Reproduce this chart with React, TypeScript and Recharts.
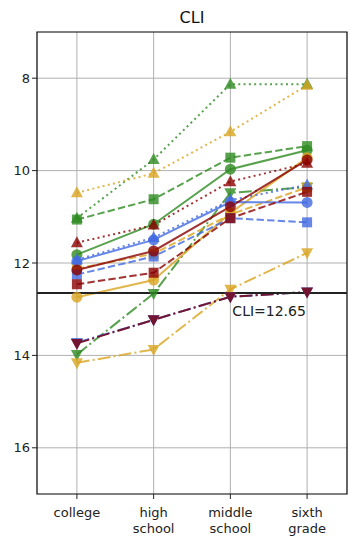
import React from 'react';
import { LineChart, Line, XAxis, YAxis, CartesianGrid, ReferenceLine, ReferenceArea, ReferenceDot } from 'recharts';

const categories = ['college', 'high school', 'middle school', 'sixth grade'];

// green series
const greenTri = [11.03, 9.76, 8.13, 8.13];
const greenCircle = [11.82, 11.16, 9.97, 9.56];
const greenSquare = [11.06, 10.62, 9.72, 9.47];
const greenDown = [13.98, 12.66, 10.48, 10.36];

// gold series
const goldTri = [10.48, 10.06, 9.16, 8.15];
const goldCircle = [12.74, 12.37, 10.92, 9.72];
const goldSquare = [12.12, 11.8, 10.95, 10.36];
const goldDown = [14.16, 13.87, 12.57, 11.78];

// blue series
const blueTri = [11.93, 11.45, 10.64, 10.31];
const blueCircle = [11.96, 11.5, 10.68, 10.69];
const blueSquare = [12.25, 11.86, 11.03, 11.12];
const blueDown = [13.72, 13.23, 12.73, 12.63];

// dark red series
const redTri = [11.56, 11.18, 10.24, 9.84];
const redCircle = [12.15, 11.74, 10.78, 9.77];
const redSquare = [12.46, 12.21, 11.03, 10.46];

// maroon
const maroonDown = [13.74, 13.23, 12.73, 12.63];

const cliValue = 12.65;

const GREEN = '#2e8b22';
const GOLD = '#daa520';
const BLUE = '#4169e1';
const RED = '#8b0000';
const MAROON = '#731530';

const DOTTED = '2,3.3';
const DASHED = '7.4,3.2';
const DASHDOT = '12.8,3.2,2,3.2';

type Marker = 'tri' | 'circle' | 'square' | 'down';

const series: { key: string; values: number[]; color: string; marker: Marker; dash?: string; opacity?: number }[] = [
  { key: 'greenTri', values: greenTri, color: GREEN, marker: 'tri', dash: DOTTED },
  { key: 'greenCircle', values: greenCircle, color: GREEN, marker: 'circle' },
  { key: 'greenSquare', values: greenSquare, color: GREEN, marker: 'square', dash: DASHED },
  { key: 'greenDown', values: greenDown, color: GREEN, marker: 'down', dash: DASHDOT },
  { key: 'goldTri', values: goldTri, color: GOLD, marker: 'tri', dash: DOTTED },
  { key: 'goldCircle', values: goldCircle, color: GOLD, marker: 'circle' },
  { key: 'goldSquare', values: goldSquare, color: GOLD, marker: 'square', dash: DASHED },
  { key: 'goldDown', values: goldDown, color: GOLD, marker: 'down', dash: DASHDOT },
  { key: 'blueTri', values: blueTri, color: BLUE, marker: 'tri', dash: DOTTED },
  { key: 'blueCircle', values: blueCircle, color: BLUE, marker: 'circle' },
  { key: 'blueSquare', values: blueSquare, color: BLUE, marker: 'square', dash: DASHED },
  { key: 'blueDown', values: blueDown, color: BLUE, marker: 'down', dash: DASHDOT },
  { key: 'redTri', values: redTri, color: RED, marker: 'tri', dash: DOTTED },
  { key: 'redCircle', values: redCircle, color: RED, marker: 'circle' },
  { key: 'redSquare', values: redSquare, color: RED, marker: 'square', dash: DASHED },
  { key: 'maroonDown', values: maroonDown, color: MAROON, marker: 'down', dash: DASHDOT, opacity: 1 },
];

const data = categories.map((c, i) => {
  const row: any = { x: i, name: c };
  series.forEach(s => { row[s.key] = s.values[i]; });
  return row;
});

const makeDot = (marker: Marker, color: string, opacity: number) => (props: any) => {
  const { cx, cy, index } = props;
  const k = `${marker}-${color}-${index}`;
  if (cx == null || cy == null) return <g key={k} />;
  const r = 5.5;
  const common = { fill: color, fillOpacity: opacity, stroke: 'none' };
  if (marker === 'circle') return <circle key={k} cx={cx} cy={cy} r={r} {...common} />;
  if (marker === 'square') return <rect key={k} x={cx - 5} y={cy - 5} width={10} height={10} {...common} />;
  if (marker === 'tri')
    return <polygon key={k} points={`${cx},${cy - 6.5} ${cx - 6},${cy + 4.5} ${cx + 6},${cy + 4.5}`} {...common} />;
  return <polygon key={k} points={`${cx},${cy + 6.5} ${cx - 6},${cy - 4.5} ${cx + 6},${cy - 4.5}`} {...common} />;
};

const XTick = (props: any) => {
  const { x, y, payload } = props;
  const words = String(categories[payload.value] || '').split(' ');
  return (
    <text x={x} y={y + 4} textAnchor="middle" fontSize={13} fill="#222" fontFamily="DejaVu Sans">
      {words.map((w, i) => (
        <tspan key={i} x={x} dy={i === 0 ? 12 : 16}>{w}</tspan>
      ))}
    </text>
  );
};

const CliLabel = (props: any) => {
  const { viewBox } = props;
  const x = viewBox?.x ?? 0;
  const y = viewBox?.y ?? 0;
  return (
    <text x={x + 2} y={y + 23} fontSize={14} fill="#222" fontFamily="DejaVu Sans">
      CLI={cliValue}
    </text>
  );
};

export default function App() {
  return (
    <div style={{ position: 'absolute', left: 0, top: 0, width: 357, height: 544, background: '#fff', fontFamily: 'DejaVu Sans' }}>
      <div style={{ position: 'absolute', left: 37, width: 310, top: 8, textAlign: 'center', fontSize: 16, color: '#111' }}>CLI</div>
      <LineChart width={357} height={544} data={data} margin={{ top: 32, right: 10, bottom: 0, left: 0 }}>
        <CartesianGrid stroke="#b0b0b0" strokeWidth={1} horizontalValues={[8, 10, 12, 14, 16]} verticalValues={[0, 1, 2, 3]} />
        <XAxis
          dataKey="x"
          type="number"
          domain={[-0.52, 3.52]}
          ticks={[0, 1, 2, 3]}
          tick={<XTick />}
          tickSize={5}
          height={50}
          tickLine={{ stroke: '#222' }}
          axisLine={false}
          interval={0}
          allowDataOverflow
        />
        <YAxis
          type="number"
          domain={[7, 17]}
          reversed
          ticks={[8, 10, 12, 14, 16]}
          width={37}
          tickSize={5}
          tick={{ fontSize: 13, fill: '#222', fontFamily: 'DejaVu Sans' }}
          tickLine={{ stroke: '#222' }}
          axisLine={false}
          allowDataOverflow
        />
        {series.map(s => (
          <Line
            key={s.key}
            dataKey={s.key}
            type="linear"
            stroke={s.color}
            strokeOpacity={s.opacity ?? 0.8}
            strokeWidth={2}
            strokeDasharray={s.dash}
            dot={makeDot(s.marker, s.color, s.opacity ?? 0.8)}
            activeDot={false}
            isAnimationActive={false}
          />
        ))}
        <ReferenceLine y={cliValue} stroke="#222" strokeWidth={2} />
        <ReferenceDot x={2} y={cliValue} r={0} stroke="none" fill="none" label={<CliLabel />} />
        <ReferenceArea x1={-0.52} x2={3.52} y1={7} y2={17} fill="none" stroke="#000" strokeWidth={1.2} ifOverflow="visible" />
      </LineChart>
    </div>
  );
}
